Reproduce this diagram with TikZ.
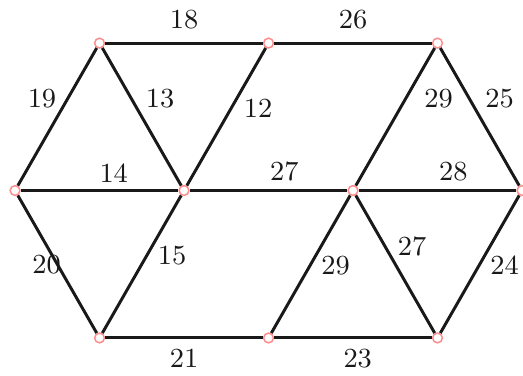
\documentclass[tikz,border=0pt]{standalone}
\usepackage{amsmath}
\usepackage{tikz}

\begin{document}
\begin{tikzpicture}[font=\fontsize{9.3}{10}\selectfont,
    vtx/.style={circle, draw=red!45, fill=white, line width=0.5pt, inner sep=0pt, minimum size=3.3pt},
    edg/.style={line width=1pt, black!90}]
  \useasboundingbox (-0.178,-0.450) rectangle (6.012,4.0);
  \node[vtx] (a) at (1,3.49) {};
  \node[vtx] (b) at (3,3.49) {};
  \node[vtx] (c) at (5,3.49) {};
  \node[vtx] (d) at (0,1.745) {};
  \node[vtx] (e) at (2,1.745) {};
  \node[vtx] (f) at (4,1.745) {};
  \node[vtx] (g) at (6,1.745) {};
  \node[vtx] (h) at (1,0) {};
  \node[vtx] (i) at (3,0) {};
  \node[vtx] (j) at (5,0) {};
  \draw[edg] (a) -- node[above, yshift=1pt] {18} (b);
  \draw[edg] (b) -- node[above, yshift=1pt] {26} (c);
  \draw[edg] (d) -- node[pos=0.63, left] {19} (a);
  \draw[edg] (a) -- node[pos=0.37, right, xshift=1pt] {13} (e);
  \draw[edg] (e) -- node[pos=0.56, right, xshift=0.5pt] {12} (b);
  \draw[edg] (f) -- node[pos=0.63, right, xshift=2.5pt] {29} (c);
  \draw[edg] (c) -- node[pos=0.37, right, xshift=1.5pt] {25} (g);
  \draw[edg] (d) -- node[pos=0.59, above, yshift=-1pt] {14} (e);
  \draw[edg] (e) -- node[pos=0.6, above, yshift=-0.5pt] {27} (f);
  \draw[edg] (f) -- node[pos=0.6, above, yshift=-0.5pt] {28} (g);
  \draw[edg] (d) -- node[pos=0.5, left, xshift=5pt] {20} (h);
  \draw[edg] (h) -- node[pos=0.56, right] {15} (e);
  \draw[edg] (h) -- node[below] {21} (i);
  \draw[edg] (i) -- node[pos=0.49, right] {29} (f);
  \draw[edg] (f) -- node[pos=0.37, right, xshift=0.5pt] {27} (j);
  \draw[edg] (j) -- node[pos=0.49, right] {24} (g);
  \draw[edg] (i) -- node[pos=0.53, below] {23} (j);
\end{tikzpicture}
\end{document}
